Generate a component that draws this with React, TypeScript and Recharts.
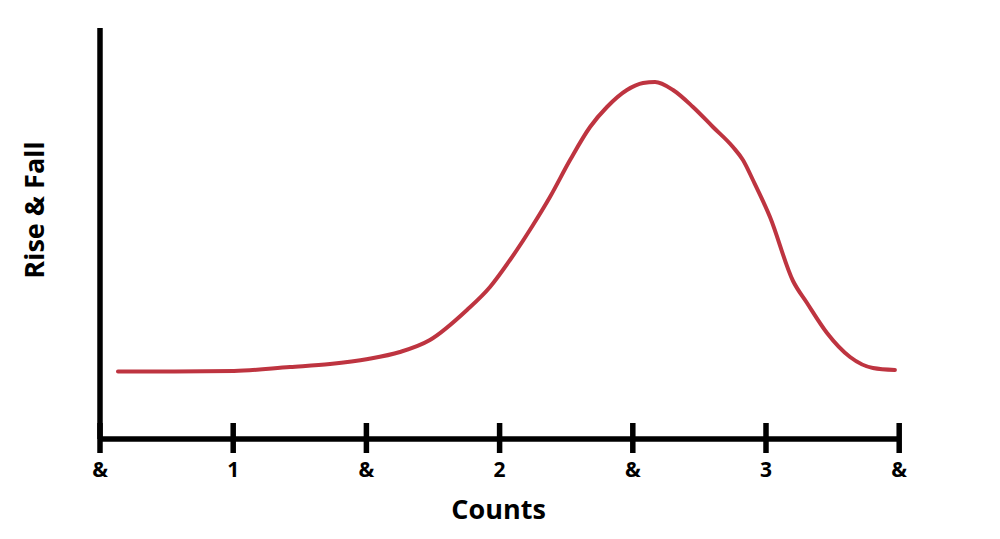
import React from 'react';
import { LineChart, Line, XAxis, YAxis, Label } from 'recharts';

// Position along the count (0 = first "&", 1 = "1", ...)
const beatPositions = [
  0.135, 0.563, 1.006, 1.426, 1.727, 2.012, 2.252, 2.477, 2.755, 2.928,
  3.078, 3.251, 3.378, 3.529, 3.679, 3.806, 3.956, 4.077, 4.167, 4.302,
  4.452, 4.602, 4.752, 4.827, 4.902, 5.030, 5.203, 5.308, 5.458, 5.631,
  5.803, 5.968,
];
// Rise & fall height (arbitrary units)
const riseFall = [
  67.5, 67.5, 68, 72, 75, 80, 87, 99, 129, 152,
  179, 214, 242, 279, 312, 332, 349, 356, 357, 349,
  332, 312, 292, 279, 259, 222, 158, 136, 106, 82,
  71, 69,
];
const tickValues = [0, 1, 2, 3, 4, 5, 6];
const tickLabels = ['&', '1', '&', '2', '&', '3', '&'];

const data = beatPositions.map((x, i) => ({ x, y: riseFall[i] }));

const FONT = "'Open Sans', sans-serif";

const CountTick = (props: any) => {
  const { x, y, payload } = props;
  const idx = tickValues.indexOf(payload.value);
  return (
    <g>
      <line x1={x} x2={x} y1={y - 16} y2={y + 14} stroke="#000" strokeWidth={5.5} />
      <text
        x={x}
        y={y + 38}
        textAnchor="middle"
        fontFamily={FONT}
        fontWeight={700}
        fontSize={21}
        fill="#000"
      >
        {tickLabels[idx]}
      </text>
    </g>
  );
};

export default function App() {
  return (
    <div style={{ position: 'absolute', left: 0, top: 0, width: 1000, height: 539, background: '#fff' }}>
      <LineChart
        width={1000}
        height={539}
        data={data}
        margin={{ top: 28, right: 100.8, bottom: 60, left: 0 }}
      >
        <XAxis
          dataKey="x"
          type="number"
          domain={[0, 6]}
          ticks={tickValues}
          interval={0}
          height={40}
          tickSize={0}
          tickMargin={0}
          tickLine={false}
          axisLine={{ stroke: '#000', strokeWidth: 5.5 }}
          tick={<CountTick />}
        >
          <Label
            content={(p: any) => {
              const vb = p.viewBox || {};
              return (
                <text
                  x={vb.x + vb.width / 2 - 1}
                  y={vb.y + 80}
                  textAnchor="middle"
                  fontFamily={FONT}
                  fontWeight={700}
                  fontSize={27}
                  fill="#000"
                >
                  Counts
                </text>
              );
            }}
          />
        </XAxis>
        <YAxis
          type="number"
          domain={[0, 411]}
          width={100}
          tick={false}
          tickLine={false}
          axisLine={{ stroke: '#000', strokeWidth: 5.5 }}
        >
          <Label
            content={(p: any) => {
              const vb = p.viewBox || {};
              const cx = vb.x + vb.width - 56;
              const cy = vb.y + 182;
              return (
                <text
                  x={cx}
                  y={cy}
                  transform={`rotate(-90, ${cx}, ${cy})`}
                  textAnchor="middle"
                  fontFamily={FONT}
                  fontWeight={700}
                  fontSize={27}
                  fill="#000"
                >
                  Rise &amp; Fall
                </text>
              );
            }}
          />
        </YAxis>
        <Line
          type="monotone"
          dataKey="y"
          stroke="#BE3440"
          strokeWidth={4}
          strokeLinecap="round"
          dot={false}
          activeDot={false}
          isAnimationActive={false}
        />
      </LineChart>
    </div>
  );
}
